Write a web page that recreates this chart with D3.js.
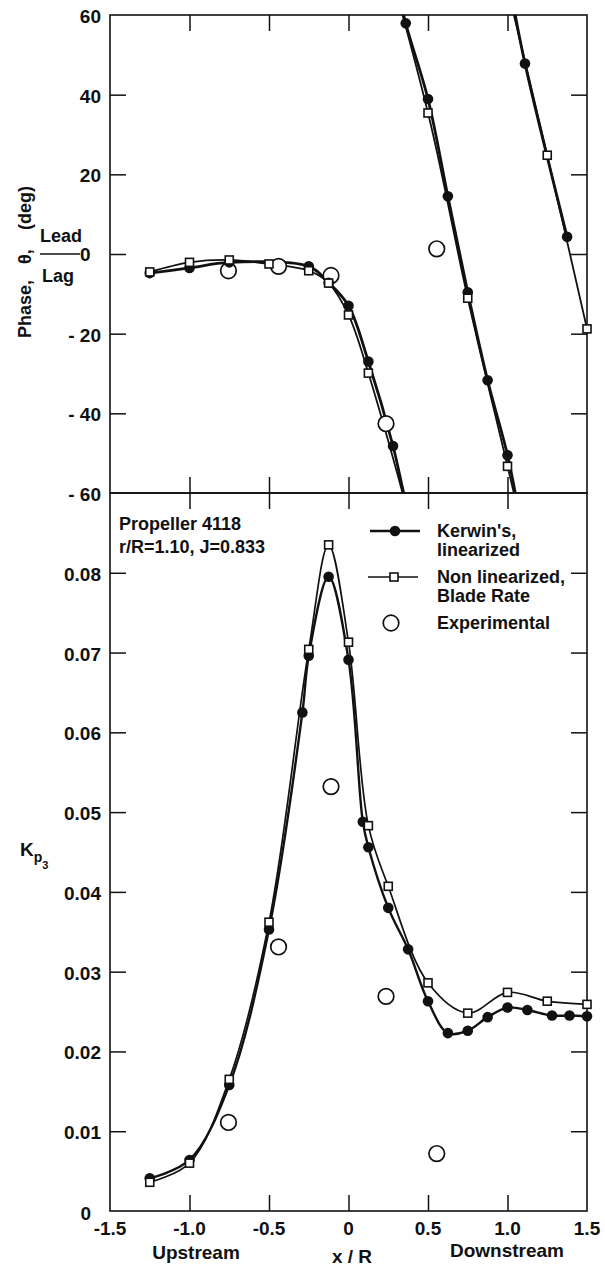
<!DOCTYPE html>
<html>
<head>
<meta charset="utf-8">
<script src="https://cdn.jsdelivr.net/npm/d3@7"></script>
<style>
  html, body { margin: 0; padding: 0; background: #fff; }
  svg { display: block; }
  text { font-family: "Liberation Sans", Arial, sans-serif; font-weight: bold; fill: #111; }
</style>
</head>
<body>
<svg id="chart" width="605" height="1274"></svg>
<script>
// ---- Phase of the blade-rate pressure, degrees (wrapped into -60..60) ----
const phaseXKerwin = [-1.25, -1.0, -0.75, -0.25, -0.125, 0, 0.125, 0.28, 0.36, 0.5, 0.625, 0.75, 0.875, 1.0, 1.11, 1.375];
const phaseKerwin  = [-4.8, -3.5, -2.1, -3.1, -7.2, -13.0, -27.0, -48.2, 57.9, 38.9, 14.5, -9.6, -31.7, -50.5, 47.8, 4.3];

const phaseXNonlin = [-1.25, -1.0, -0.75, -0.5, -0.25, -0.125, 0, 0.125, 0.5, 0.75, 1.0, 1.25, 1.5];
const phaseNonlin  = [-4.5, -2.1, -1.5, -2.5, -4.2, -7.3, -15.3, -29.9, 35.4, -11.1, -53.3, 24.8, -18.8];

// ---- Pressure coefficient Kp3 ----
const kpXKerwin = [-1.25, -1.0, -0.75, -0.5, -0.29, -0.25, -0.125, 0, 0.09, 0.125, 0.25, 0.375, 0.5, 0.625, 0.75, 0.875, 1.0, 1.125, 1.28, 1.39, 1.5];
const kpKerwin  = [0.0041, 0.0064, 0.0158, 0.0353, 0.0625, 0.0696, 0.0795, 0.0691, 0.0488, 0.0456, 0.0380, 0.0328, 0.0263, 0.0223, 0.0226, 0.0243, 0.0255, 0.0252, 0.0245, 0.0245, 0.0244];

const kpXNonlin = [-1.25, -1.0, -0.75, -0.5, -0.25, -0.125, 0, 0.125, 0.25, 0.5, 0.75, 1.0, 1.25, 1.5];
const kpNonlin  = [0.0036, 0.0060, 0.0165, 0.0362, 0.0704, 0.0835, 0.0713, 0.0483, 0.0407, 0.0286, 0.0248, 0.0274, 0.0263, 0.0259];

// ---- Experimental measurements ----
const expX     = [-0.755, -0.44, -0.11, 0.236, 0.555];
const expPhase = [-4.2, -3.1, -5.4, -42.6, 1.3];
const expKp    = [0.0111, 0.0331, 0.0532, 0.0269, 0.0072];

// ---- Axis ticks and labels ----
const xTicksInner = [-1.0, -0.5, 0, 0.5, 1.0];
const xTickLabels = [-1.5, -1.0, -0.5, 0, 0.5, 1.0, 1.5];
const phaseTicks  = [40, 20, 0, -20, -40];
const phaseLabels = [60, 40, 20, -20, -40, -60];
const kpTicks     = [0.01, 0.02, 0.03, 0.04, 0.05, 0.06, 0.07, 0.08];

const ink = "#111";
const svg = d3.select("#chart");

const x = d3.scaleLinear().domain([-1.5, 1.5]).range([110, 587]);
const yPhase = d3.scaleLinear().domain([-60, 60]).range([493, 15]);
const yKp = d3.scaleLinear().domain([0, 0.09]).range([1211, 493]);

const zip = (xs, ys) => xs.map((d, i) => ({ x: d, v: ys[i] }));
const curve = d3.curveCatmullRom.alpha(0.5);

// ---------- frames ----------
svg.append("rect").attr("x", x(-1.5)).attr("y", yPhase(60))
  .attr("width", x(1.5) - x(-1.5)).attr("height", yPhase(-60) - yPhase(60))
  .attr("fill", "none").attr("stroke", ink).attr("stroke-width", 1.6);
svg.append("rect").attr("x", x(-1.5)).attr("y", yKp(0.09))
  .attr("width", x(1.5) - x(-1.5)).attr("height", yKp(0) - yKp(0.09))
  .attr("fill", "none").attr("stroke", ink).attr("stroke-width", 1.6);

// ---------- inward ticks ----------
function tickGroup(axis, tx, ty) {
  const g = svg.append("g").attr("transform", `translate(${tx},${ty})`).call(axis);
  g.select(".domain").remove();
  g.selectAll(".tick text").remove();
  g.selectAll(".tick line").attr("stroke", ink).attr("stroke-width", 1.5);
  return g;
}
const TL = 16;
tickGroup(d3.axisTop(x).tickValues(xTicksInner).tickSize(-TL), 0, yPhase(60));
tickGroup(d3.axisBottom(x).tickValues(xTicksInner).tickSize(-TL), 0, yPhase(-60));
tickGroup(d3.axisTop(x).tickValues(xTicksInner).tickSize(-TL), 0, yKp(0.09));
tickGroup(d3.axisBottom(x).tickValues(xTicksInner).tickSize(-TL), 0, yKp(0));
tickGroup(d3.axisLeft(yPhase).tickValues(phaseTicks).tickSize(-TL), x(-1.5), 0);
tickGroup(d3.axisRight(yPhase).tickValues(phaseTicks).tickSize(-TL), x(1.5), 0);
tickGroup(d3.axisLeft(yKp).tickValues(kpTicks).tickSize(-TL), x(-1.5), 0);
tickGroup(d3.axisRight(yKp).tickValues(kpTicks).tickSize(-TL), x(1.5), 0);

// ---------- tick labels ----------
const fsTick = 19;
svg.append("g").selectAll("text").data(phaseLabels).join("text")
  .attr("x", 101).attr("y", d => yPhase(d) + 8)
  .attr("text-anchor", "end").attr("font-size", fsTick)
  .text(d => d > 0 ? String(d) : "- " + (-d));

svg.append("g").selectAll("text").data(kpTicks).join("text")
  .attr("x", 101).attr("y", d => yKp(d) + 8)
  .attr("text-anchor", "end").attr("font-size", fsTick)
  .text(d => d.toFixed(2));
svg.append("text").attr("x", 91).attr("y", yKp(0) + 9)
  .attr("text-anchor", "end").attr("font-size", fsTick).text("0");

svg.append("g").selectAll("text").data(xTickLabels).join("text")
  .attr("x", d => x(d)).attr("y", 1235)
  .attr("text-anchor", "middle").attr("font-size", fsTick)
  .text(d => d === 0 ? "0" : (d < 0 ? "-" : "") + Math.abs(d).toFixed(1));

// ---------- axis titles ----------
svg.append("text").attr("x", 196).attr("y", 1259).attr("text-anchor", "middle")
  .attr("font-size", 19).text("Upstream");
svg.append("text").attr("x", 507).attr("y", 1257).attr("text-anchor", "middle")
  .attr("font-size", 19).text("Downstream");
svg.append("text").attr("x", 352).attr("y", 1263).attr("text-anchor", "middle")
  .attr("font-size", 19).text("x / R");

// Phase title: rotated parts with the Lead/Lag fraction at the zero line
const yZero = yPhase(0);
svg.append("text").attr("transform", "translate(31,338) rotate(-90)")
  .attr("font-size", 18).text("Phase,");
svg.append("text").attr("transform", "translate(31,264) rotate(-90)")
  .attr("font-size", 18).text("θ,");
svg.append("text").attr("transform", "translate(31,230) rotate(-90)")
  .attr("font-size", 18).text("(deg)");
svg.append("text").attr("x", 40).attr("y", yZero - 12).attr("font-size", 18).text("Lead");
svg.append("line").attr("x1", 40).attr("x2", 80).attr("y1", yZero).attr("y2", yZero)
  .attr("stroke", ink).attr("stroke-width", 1.6);
svg.append("text").attr("x", 80).attr("y", yZero + 7).attr("font-size", fsTick).text("0");
svg.append("text").attr("x", 42).attr("y", yZero + 28).attr("font-size", 18).text("Lag");

// Kp3 title
const kpT = svg.append("text").attr("x", 20).attr("y", 856).attr("font-size", 19);
kpT.append("tspan").text("K");
kpT.append("tspan").attr("font-size", 14).attr("dy", 6).text("p");
kpT.append("tspan").attr("font-size", 11).attr("dy", 7).text("3");

// ---------- annotation ----------
svg.append("text").attr("x", 119).attr("y", 530).attr("font-size", 18).text("Propeller 4118");
svg.append("text").attr("x", 119).attr("y", 553).attr("font-size", 18).text("r/R=1.10, J=0.833");

// ---------- phase curves (wrapped every 120 deg) ----------
svg.append("clipPath").attr("id", "topClip").append("rect")
  .attr("x", x(-1.5)).attr("y", yPhase(60))
  .attr("width", x(1.5) - x(-1.5)).attr("height", yPhase(-60) - yPhase(60));

function unwrap(vals) {
  let off = 0;
  return vals.map((v, i) => {
    if (i > 0 && v - vals[i - 1] > 60) off -= 120;
    return v + off;
  });
}
function phaseCurve(xs, vals, width) {
  const pts = zip(xs, unwrap(vals));
  const g = svg.append("g").attr("clip-path", "url(#topClip)");
  [0, 120, 240].forEach(k => {
    g.append("path").datum(pts)
      .attr("d", d3.line().x(d => x(d.x)).y(d => yPhase(d.v + k)).curve(curve))
      .attr("fill", "none").attr("stroke", ink).attr("stroke-width", width)
      .attr("stroke-linejoin", "round");
  });
}
phaseCurve(phaseXNonlin, phaseNonlin, 1.8);
phaseCurve(phaseXKerwin, phaseKerwin, 2.8);

// ---------- Kp curves ----------
function kpCurve(xs, vals, width) {
  svg.append("path").datum(zip(xs, vals))
    .attr("d", d3.line().x(d => x(d.x)).y(d => yKp(d.v)).curve(curve))
    .attr("fill", "none").attr("stroke", ink).attr("stroke-width", width)
    .attr("stroke-linejoin", "round");
}
kpCurve(kpXNonlin, kpNonlin, 1.7);
kpCurve(kpXKerwin, kpKerwin, 2.4);

// ---------- markers ----------
function openCircles(data, yS) {
  svg.append("g").selectAll("circle").data(data).join("circle")
    .attr("cx", d => x(d.x)).attr("cy", d => yS(d.v)).attr("r", 7.8)
    .attr("fill", "#fff").attr("stroke", ink).attr("stroke-width", 1.7);
}
function dots(data, yS) {
  svg.append("g").selectAll("circle").data(data).join("circle")
    .attr("cx", d => x(d.x)).attr("cy", d => yS(d.v)).attr("r", 5.3).attr("fill", ink);
}
function squares(data, yS) {
  svg.append("g").selectAll("rect").data(data).join("rect")
    .attr("x", d => x(d.x) - 4).attr("y", d => yS(d.v) - 4)
    .attr("width", 8).attr("height", 8)
    .attr("fill", "#fff").attr("stroke", ink).attr("stroke-width", 1.6);
}
openCircles(zip(expX, expPhase), yPhase);
openCircles(zip(expX, expKp), yKp);
dots(zip(phaseXKerwin, phaseKerwin), yPhase);
dots(zip(kpXKerwin, kpKerwin), yKp);
squares(zip(phaseXNonlin, phaseNonlin), yPhase);
squares(zip(kpXNonlin, kpNonlin), yKp);

// ---------- legend ----------
const lg = svg.append("g");
lg.append("line").attr("x1", 370).attr("x2", 420).attr("y1", 531).attr("y2", 531)
  .attr("stroke", ink).attr("stroke-width", 2.4);
lg.append("circle").attr("cx", 395).attr("cy", 531).attr("r", 5.3).attr("fill", ink);
lg.append("line").attr("x1", 368).attr("x2", 418).attr("y1", 577).attr("y2", 577)
  .attr("stroke", ink).attr("stroke-width", 1.7);
lg.append("rect").attr("x", 390).attr("y", 573).attr("width", 8).attr("height", 8)
  .attr("fill", "#fff").attr("stroke", ink).attr("stroke-width", 1.6);
lg.append("circle").attr("cx", 391).attr("cy", 623).attr("r", 7.8)
  .attr("fill", "#fff").attr("stroke", ink).attr("stroke-width", 1.7);
[["Kerwin's,", 537], ["linearized", 556], ["Non linearized,", 583], ["Blade Rate", 602], ["Experimental", 629]]
  .forEach(([t, yy]) => lg.append("text").attr("x", 437).attr("y", yy).attr("font-size", 18).text(t));
</script>
</body>
</html>
